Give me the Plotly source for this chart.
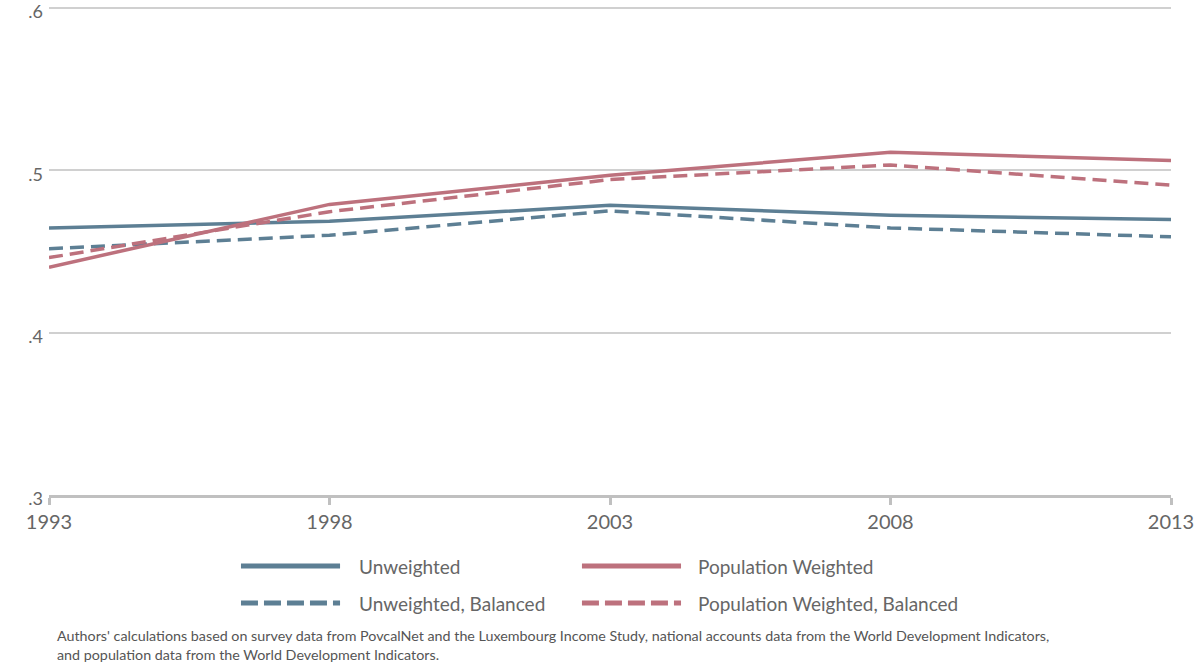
import plotly.graph_objects as go

years = [1993, 1998, 2003, 2008, 2013]
unweighted = [0.4645, 0.4686, 0.4784, 0.4723, 0.4697]
unweighted_balanced = [0.4517, 0.4600, 0.4750, 0.4645, 0.4590]
pop_weighted = [0.4403, 0.4790, 0.4969, 0.5111, 0.5061]
pop_weighted_balanced = [0.4462, 0.4745, 0.4943, 0.5033, 0.4908]

y_ticks = [0.3, 0.4, 0.5, 0.6]
y_tick_labels = [".3", ".4", ".5", ".6"]
x_tick_labels = ["1993", "1998", "2003", "2008", "2013"]

series_names = ["Unweighted", "Population Weighted", "Unweighted, Balanced", "Population Weighted, Balanced"]

BLUE = "#5d7f94"
PINK = "#bd717d"
TEXT = "#666666"
FONT = "Lato"

fig = go.Figure()
fig.add_trace(go.Scatter(x=years, y=unweighted, mode="lines", name=series_names[0],
                         line=dict(color=BLUE, width=3.5)))
fig.add_trace(go.Scatter(x=years, y=unweighted_balanced, mode="lines", name=series_names[2],
                         line=dict(color=BLUE, width=3.5, dash="14px,7px")))
fig.add_trace(go.Scatter(x=years, y=pop_weighted, mode="lines", name=series_names[1],
                         line=dict(color=PINK, width=3.5)))
fig.add_trace(go.Scatter(x=years, y=pop_weighted_balanced, mode="lines", name=series_names[3],
                         line=dict(color=PINK, width=3.5, dash="14px,7px")))

# plot area: x 49..1171 px, y 6..495 px (height 489)
PH = 489.0
def py(pix):
    return (495 - pix) / PH

# Manual legend (paper coordinates)
legend_items = [
    (series_names[0], BLUE, "solid", 0.1711, 0.2594, 0.2745, py(566)),
    (series_names[1], PINK, "solid", 0.4750, 0.5633, 0.5766, py(566)),
    (series_names[2], BLUE, "17px,6px", 0.1711, 0.2594, 0.2745, py(603)),
    (series_names[3], PINK, "17px,6px", 0.4750, 0.5633, 0.5766, py(603)),
]
for name, color, dash, x0, x1, xt, yy in legend_items:
    fig.add_shape(type="line", xref="paper", yref="paper", x0=x0, x1=x1, y0=yy, y1=yy,
                  line=dict(color=color, width=5, dash=dash))
    fig.add_annotation(xref="paper", yref="paper", x=xt, y=yy, text=name, showarrow=False,
                       xanchor="left", yanchor="middle",
                       font=dict(family=FONT, size=19, color=TEXT))

fig.add_annotation(
    xref="paper", yref="paper", x=0.0053, y=py(625), xanchor="left", yanchor="top", align="left",
    showarrow=False,
    text=("Authors' calculations based on survey data from PovcalNet and the Luxembourg Income Study, "
          "national accounts data from the World Development Indicators,<br>"
          "and population data from the World Development Indicators."),
    font=dict(family=FONT, size=14.3, color="#555555"),
)

fig.update_layout(
    width=1194, height=671,
    margin=dict(l=49, r=23, t=6, b=176),
    plot_bgcolor="white", paper_bgcolor="white",
    showlegend=False,
    font=dict(family=FONT, size=18, color=TEXT),
    xaxis=dict(range=[1993, 2013], tickvals=years, ticktext=x_tick_labels,
               showgrid=False, zeroline=False, showline=True, linecolor="#c0c0c0", linewidth=3,
               ticks="outside", ticklen=7, tickwidth=3, tickcolor="#c0c0c0",
               ticklabeloverflow="allow", automargin=False,
               tickfont=dict(family=FONT, size=20, color=TEXT)),
    yaxis=dict(range=[0.3, 0.6012], tickvals=y_ticks, ticktext=y_tick_labels,
               showgrid=True, gridcolor="#d0d0d0", gridwidth=2, zeroline=False, showline=False,
               ticks="", ticklabelstandoff=5, ticklabelshift=4, ticklabeloverflow="allow",
               automargin=False,
               tickfont=dict(family=FONT, size=18, color=TEXT)),
)

fig.write_html("out.html", config={"displayModeBar": False},
               post_script="document.body.style.margin='0';")
